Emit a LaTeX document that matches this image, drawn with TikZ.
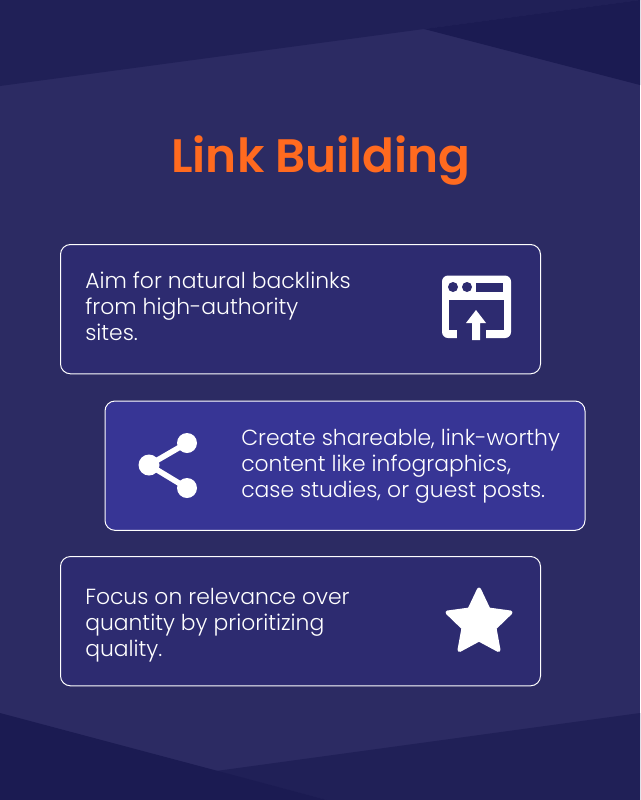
\documentclass[tikz,border=0pt]{standalone}
\usepackage{fontspec}
\setmainfont{Poppins}
\newfontfamily\titlefont{Poppins SemiBold}
\newfontfamily\bodyfont{Poppins Light}
\definecolor{PageBlue}{HTML}{2C2B63}
\definecolor{BandBlue}{HTML}{202057}
\definecolor{DeepBlue}{HTML}{1B1B52}
\definecolor{CardBlue}{HTML}{2D2B70}
\definecolor{CardBright}{HTML}{373595}
\definecolor{TitleOrange}{HTML}{FF6A1F}
\tikzset{
  x=0.75pt, y=-0.75pt,
  % Box styles
  cardbox/.style={rectangle, rounded corners=7.5pt, draw=white, line width=0.75pt, fill=CardBlue, minimum width=360pt, minimum height=97pt, anchor=north west},
  % Text styles
  cardtext/.style={anchor=west, align=left, text=white, inner sep=0pt, font=\bodyfont\fontsize{16.4}{19.5}\selectfont},
  titletext/.style={anchor=base, text=TitleOrange, inner sep=0pt, font=\titlefont\fontsize{35.2}{42}\selectfont},
  % Icon styles
  iconfill/.style={fill=white, draw=none},
  iconline/.style={draw=white, line width=4.2pt}
}
\begin{document}
\begin{tikzpicture}
  \useasboundingbox (0,0) rectangle (640,800);
  % background
  \fill[PageBlue] (0,0) rectangle (640,800);
  \fill[BandBlue] (0,0) -- (640,0) -- (424,29) -- (0,86) -- cycle;
  \fill[DeepBlue] (424,29) -- (640,0) -- (640,85) -- cycle;
  \fill[BandBlue] (640,713) -- (640,800) -- (327,800) -- (216,771) -- cycle;
  \fill[DeepBlue] (0,713) -- (327,800) -- (0,800) -- cycle;

  \node[titletext] (title) at (321,172) {Link Building};

  \node[cardbox] (backlinks) at (60,244) {};
  \node[cardbox, fill=CardBright] (shareable) at (104.5,400.5) {};
  \node[cardbox] (relevance) at (60,556) {};

  \node[cardtext] (backlinkstext) at (85,306) {Aim for natural backlinks\\from high-authority\\sites.};
  \node[cardtext] (shareabletext) at (241,466) {Create shareable, link-worthy\\content like infographics,\\case studies, or guest posts.};
  \node[cardtext] (relevancetext) at (85,625) {Focus on relevance over\\quantity by prioritizing\\quality.};

  % window icon
  \fill[white, rounded corners=4.5pt] (442,275.5) rectangle (511,338);
  \fill[CardBlue] (449,300) rectangle (503.5,330);
  \fill[CardBlue] (457,330) rectangle (486,338.5);
  \fill[CardBlue] (453,287) circle (5) (467,287) circle (5);
  \fill[CardBlue] (476,283) rectangle (503,292);
  \fill[white] (476,310) -- (486,323) -- (480,323) -- (480,340) -- (472,340) -- (472,323) -- (466,323) -- cycle;

  % share icon
  \draw[iconline] (187,443) -- (149,465) -- (187,488);
  \fill[white] (187,443) circle (10) (149,465) circle (10.5) (187,488) circle (10);

  % star icon
  \filldraw[white, line width=3pt, line join=round] (479,589.5) -- (488.5,609.5) -- (510.5,612.5) -- (494.5,628) -- (498.5,650) -- (479,639.5) -- (459.5,650) -- (463.5,628) -- (447.5,612.5) -- (469.5,609.5) -- cycle;
\end{tikzpicture}
\end{document}
